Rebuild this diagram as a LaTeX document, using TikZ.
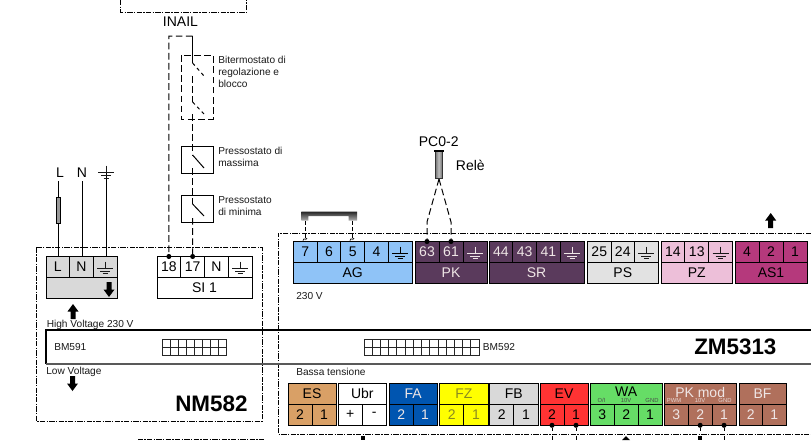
\documentclass[tikz,border=0pt]{standalone}
\usepackage{fontspec}
\setmainfont{Liberation Sans}
\usetikzlibrary{calc}
\definecolor{agc}{HTML}{8FC3F7}
\definecolor{pkc}{HTML}{5A3A5C}
\definecolor{psc}{HTML}{E2E2E2}
\definecolor{pzc}{HTML}{EDBFD9}
\definecolor{asc}{HTML}{B5397C}
\definecolor{esc}{HTML}{D9A066}
\definecolor{fac}{HTML}{0055B0}
\definecolor{fzc}{HTML}{FFFF00}
\definecolor{fzt}{HTML}{8A8A20}
\definecolor{fbc}{HTML}{D9D9D9}
\definecolor{evc}{HTML}{FF3333}
\definecolor{wac}{HTML}{66DD66}
\definecolor{pmc}{HTML}{B0705C}
\definecolor{ltx}{HTML}{EFE6E6}
\tikzset{
  x=0.75pt,y=-0.75pt,
  ddot/.style={line width=0.7pt,black,dash pattern=on 4pt off 1pt on 1pt off 1pt},
  wire/.style={line width=0.75pt,draw=black},
  dwire/.style={line width=0.75pt,draw=black,dash pattern=on 5pt off 2.6pt},
  cell/.style={draw=black,line width=0.75pt,inner sep=0,outer sep=0,font=\fontsize{10.5}{10.5}\selectfont},
  lbl/.style={inner sep=0,anchor=base west,font=\fontsize{7.6}{8}\selectfont,text=black!90},
  biglbl/.style={inner sep=0,anchor=base,font=\fontsize{10.5}{11}\selectfont,text=black},
  title/.style={inner sep=0,anchor=base west,font=\fontsize{16.8}{17}\selectfont\bfseries},
  tiny/.style={inner sep=0,anchor=base,font=\fontsize{4.4}{4.4}\selectfont},
  tdot/.style={circle,fill=black,inner sep=0,minimum size=3.8pt},
  tick/.style={line width=0.75pt,black,dash pattern=on 2.2pt off 3.5pt on 8pt},
}
% block: name, x0, x1, fill, text colour, header label, terminal labels
\newcommand{\tblock}[7]{%
  \foreach \lab [count=\i] in {#7} {\xdef\nc{\i}}%
  \pgfmathsetmacro\cw{(#3-#2)/\nc}%
  \pgfmathsetmacro\hcx{(#2+#3)/2}%
  \pgfmathsetmacro\hcy{(\hA+\hB)/2}%
  \pgfmathsetmacro\hh{abs(\hB-\hA)}%
  \pgfmathsetmacro\tcy{(\tA+\tB)/2}%
  \pgfmathsetmacro\th{abs(\tB-\tA)}%
  \pgfmathsetmacro\fw{#3-#2}%
  \node[cell,fill=#4,text=#5,minimum width=\fw*0.75pt,minimum height=\hh*0.75pt] (#1-h) at (\hcx,\hcy) {#6};
  \foreach \lab [count=\i] in {#7} {
    \pgfmathsetmacro\cx{#2+(\i-0.5)*\cw}
    \node[cell,fill=#4,text=#5,minimum width=\cw*0.75pt,minimum height=\th*0.75pt] (#1-\i) at (\cx,\tcy) {\lab};
  }
}
\newcommand{\earthsym}[2]{%
  \begin{scope}[shift={(#1)}]
    \draw[#2,line width=0.6pt] (0,-5.5)--(0,1.5) (-8,1.5)--(8,1.5) (-5,4)--(5,4) (-2.5,6.5)--(2.5,6.5);
  \end{scope}}
\newcommand{\arrowup}[2]{\fill[black] (#1,#2)--(#1+5.5,#2+7.5)--(#1+2.5,#2+7.5)--(#1+2.5,#2+15)--(#1-2.5,#2+15)--(#1-2.5,#2+7.5)--(#1-5.5,#2+7.5)--cycle;}
\newcommand{\arrowdown}[2]{\fill[black] (#1,#2)--(#1+5.5,#2-7.5)--(#1+2.5,#2-7.5)--(#1+2.5,#2-15)--(#1-2.5,#2-15)--(#1-2.5,#2-7.5)--(#1-5.5,#2-7.5)--cycle;}
\newcommand{\gridbox}[5]{% x0 x1 y0 y1 cols
  \pgfmathsetmacro\gw{(#2-#1)/#5}
  \draw[line width=0.6pt,black!85] (#1,#3) rectangle (#2,#4) (#1,{(#3+#4)/2})--(#2,{(#3+#4)/2});
  \foreach \k in {1,...,#5}{\draw[line width=0.6pt,black!85] ({#1+\k*\gw},#3)--({#1+\k*\gw},#4);}
}
\begin{document}
\begin{tikzpicture}
\useasboundingbox (0,0) rectangle (811,440);
% outer module frames
\draw[ddot] (36,247.5) rectangle (262,421);
\draw[ddot] (811,233)--(278,233)--(278,434)--(811,434);
\draw[ddot] (120.5,0)--(120.5,12)--(246.7,12)--(246.7,0);
\draw[ddot] (138.5,440)--(138.5,439)--(264.5,439)--(264.5,440);
% band
\draw[line width=0.8pt,black] (811,330)--(46,330)--(46,364);
\draw[line width=0.8pt,black!65] (46,364)--(811,364);
\node[lbl] (bm591) at (54,350.7) {BM591};
\gridbox{162}{226}{339.5}{355.5}{8}
\gridbox{364}{479}{339.5}{355.5}{14}
\node[lbl] (bm592) at (482.7,350.7) {BM592};
\node[lbl] (hv) at (46.5,327.7) {High Voltage 230 V};
\node[lbl] (lv) at (46,374) {Low Voltage};
\node[title] (nm) at (175,411) {NM582};
\node[title] (zm) at (694,354) {ZM5313};
\node[lbl] (v230) at (296,299) {230 V};
\node[lbl] (bassa) at (296,375.7) {Bassa tensione};
\arrowup{73}{304}
\arrowdown{72.5}{391}
\arrowup{770.7}{213}
% NM582 blocks: terminals above
\def\tA{256.5}\def\tB{277.5}\def\hA{277.5}\def\hB{298}
\tblock{MAINS}{46}{117}{fbc}{black}{}{L,N,{}}
\tblock{SI}{157}{252}{white}{black}{SI 1}{18,17,N,{}}
\earthsym{MAINS-3.center}{black!90}
\earthsym{SI-4.center}{black!90}
\arrowdown{109}{297}
% ZM5313 top row
\def\tA{241.5}\def\tB{262.5}\def\hA{262.5}\def\hB{283}
\tblock{AG}{293.5}{412}{agc}{black}{AG}{7,6,5,4,{}}
\tblock{PK}{415}{487}{pkc}{ltx}{PK}{63,61,{}}
\tblock{SR}{489}{584}{pkc}{ltx}{SR}{44,43,41,{}}
\tblock{PS}{587.5}{658}{psc}{black}{PS}{25,24,{}}
\tblock{PZ}{661}{732.5}{pzc}{black}{PZ}{14,13,{}}
\tblock{AS}{735}{807}{asc}{black}{AS1}{4,2,1}
\earthsym{AG-5.center}{black}
\earthsym{PK-3.center}{ltx}
\earthsym{SR-4.center}{ltx}
\earthsym{PS-3.center}{black!90}
\earthsym{PZ-3.center}{black!90}
% ZM5313 bottom row
\def\hA{383.3}\def\hB{404.3}\def\tA{404.3}\def\tB{425.3}
\tblock{ES}{288}{336}{esc}{black}{ES}{2,1}
\tblock{UBR}{338.3}{386.3}{white}{black}{Ubr}{+,-}
\tblock{FA}{389.3}{437}{fac}{ltx}{FA}{2,1}
\tblock{FZ}{439.7}{488}{fzc}{fzt}{FZ}{2,1}
\tblock{FB}{489.7}{538}{fbc}{black}{FB}{2,1}
\tblock{EV}{540}{588}{evc}{black}{EV}{2,1}
\tblock{WA}{590.3}{662}{wac}{black}{\raisebox{2.6pt}{WA}}{3,2,1}
\tblock{PM}{664.3}{736}{pmc}{ltx}{\raisebox{2.6pt}{PK mod}}{3,2,1}
\tblock{BF}{739}{786}{pmc}{ltx}{BF}{2,1}
\node[tiny,text=black!70] (wa1) at (601.5,402.7) {O/I};
\node[tiny,text=black!70] (wa2) at (626,402.7) {10V};
\node[tiny,text=black!70] (wa3) at (652,402.7) {GND};
\node[tiny,text=ltx!85!pmc] (pm1) at (674,402.7) {PWM};
\node[tiny,text=ltx!85!pmc] (pm2) at (700,402.7) {10V};
\node[tiny,text=ltx!85!pmc] (pm3) at (725,402.7) {GND};
% mains feed
\node[biglbl] (Ltop) at (60,177.3) {L};
\node[biglbl] (Ntop) at (82,177.3) {N};
\coordinate (Lw) at (58.5,181);
\coordinate (Nw) at (82,181);
\coordinate (Gw) at (106,171);
\draw[wire] (Lw)--(Lw|-MAINS-1.north);
\draw[wire] (Nw)--(Nw|-MAINS-2.north);
\draw[wire] (Gw)--(Gw|-MAINS-3.north);
\begin{scope}[shift={(Gw)}]
  \draw[black!90,line width=0.6pt] (0,-5.5)--(0,1) (-8,1)--(8,1) (-5,4)--(5,4) (-2.5,7)--(2.5,7);
\end{scope}
\draw[black,line width=0.7pt,fill=black!40] (56.5,197) rectangle (60.8,223);
% INAIL
\node[biglbl] (inail) at (180.5,26.7) {INAIL};
\coordinate (inA) at (192.6,36);
\coordinate (inB) at (168.9,36);
\draw[dwire] (inA)--(inB)--(SI-1.north);
\node[tdot] (d18) at (SI-1.north) {};
\node[tdot] (d17) at (SI-2.north) {};
\draw[wire] (inA)--(192.6,63);
\draw[dwire,dash pattern=on 2.5pt off 2.5pt] (192.6,63)--(204,76);
\draw[dwire] (192.6,76)--(192.6,102);
\draw[dwire,dash pattern=on 2.5pt off 2.5pt] (192.6,102)--(204,114);
\draw[dwire] (181,55) rectangle (213,119);
\draw[dwire] (192.6,114)--(192.6,155);
\draw[wire] (181,146.5) rectangle (213,173);
\draw[wire] (192.6,155)--(204,168);
\draw[dwire] (192.6,168)--(192.6,204);
\draw[wire] (181,195) rectangle (213,222);
\draw[wire] (192.6,204)--(204,216);
\draw[dwire] (192.6,218)--(SI-2.north);
\node[lbl] (t1) at (218,63.3) {Bitermostato di};
\node[lbl] (t2) at (218,75.3) {regolazione e};
\node[lbl] (t3) at (218,87) {blocco};
\node[lbl] (t4) at (218,154) {Pressostato di};
\node[lbl] (t5) at (218,166.7) {massima};
\node[lbl] (t6) at (218,203.3) {Pressostato};
\node[lbl] (t7) at (218,215) {di minima};
% PC0-2 relay
\node[biglbl] (pc) at (438.7,146.7) {PC0-2};
\node[biglbl,anchor=base west] (rele) at (455.7,170.7) {Relè};
\path[left color=black!55,right color=black!55,middle color=black!25] (435.3,151) rectangle (442,178);
\draw[black!80,line width=0.5pt] (435.3,151) rectangle (442,178);
\draw[black,line width=0.8pt] (434,151)--(444,151);
\coordinate (rel) at (439,179);
\node[tdot] (d63) at (PK-1.north) {};
\node[tdot] (d61) at (PK-2.north) {};
\draw[dwire] (rel)--(427,222) to[out=-90,in=90] (d63);
\draw[dwire] (rel)--(451,222) to[out=-90,in=90] (d61);
% bridge on AG
\path[top color=black!85,bottom color=black!30] (301.3,211.7)--(357,211.7)--(357,220.7)--(348.7,220.7)--(348.7,216)--(308.3,216)--(308.3,220.7)--(301.3,220.7)--cycle;
\coordinate (br7) at (305,220.7);
\coordinate (br5) at (352,220.7);
\draw[dwire,dash pattern=on 3pt off 2pt] (br7)--(br7|-AG-1.north);
\draw[dwire,dash pattern=on 3pt off 2pt] (br5)--(br5|-AG-3.north);
\draw[black,line width=0.6pt] (303,240.5) .. controls (304,237) and (306,241) .. (307,238);
\draw[black,line width=0.6pt] (350,240.5) .. controls (351,237) and (353,241) .. (354,238);
% bottom connectors
\node[tdot] (dev2) at (EV-1.south) {};
\node[tdot] (dev1) at (EV-2.south) {};
\node[tdot] (dpm2) at (PM-2.south) {};
\node[tdot] (dpm1) at (PM-3.south) {};
\coordinate (bev2) at (552,440);
\coordinate (bev1) at (576,440);
\coordinate (bpm2) at (700.1,440);
\coordinate (bpm1) at (724,440);
\draw[tick] (dev2)--(dev2|-bev2);
\draw[tick] (dev1)--(dev1|-bev1);
\draw[tick] (dpm2)--(dpm2|-bpm2);
\draw[tick] (dpm1)--(dpm1|-bpm1);
\fill[black] (360.5,436) rectangle (365,440);
\fill[black] (697.8,436) rectangle (702.3,440);
\fill[black] (626,436)--(630,440)--(622,440)--cycle;
\end{tikzpicture}
\end{document}
